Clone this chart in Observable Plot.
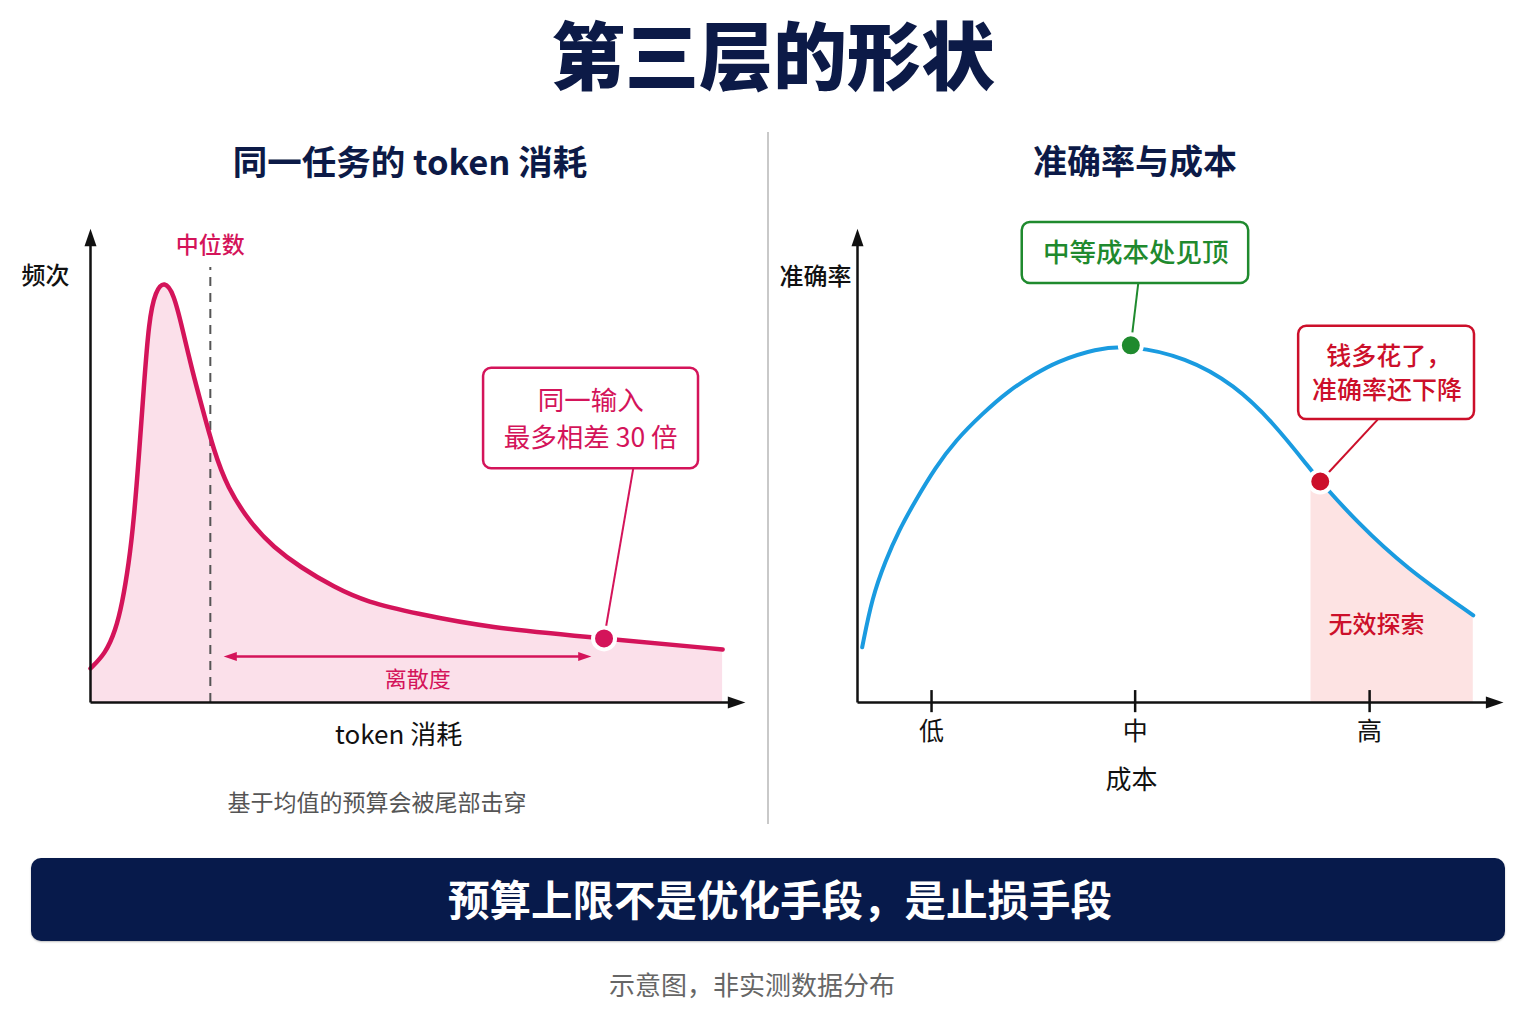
<!DOCTYPE html>
<html><head><meta charset="utf-8">
<script src="https://cdn.jsdelivr.net/npm/d3@7"></script>
<script src="https://cdn.jsdelivr.net/npm/@observablehq/plot@0.6"></script>
<style>
body{margin:0;background:#fff;}
#root{position:relative;width:1536px;height:1024px;background:#fff;font-family:'Noto Sans CJK SC','Noto Sans',sans-serif;overflow:hidden}
.abs{position:absolute;white-space:nowrap;text-align:center}
</style></head><body><div id="root"></div>
<script>
// ---------- data ----------
const pageTitle = "第三层的形状";
const leftTitle = "同一任务的 token 消耗";
const rightTitle = "准确率与成本";
const leftCaption = "基于均值的预算会被尾部击穿";
const bannerText = "预算上限不是优化手段，是止损手段";
const footerText = "示意图，非实测数据分布";

// Left: token consumption distribution (relative units)
const tokenX =    [0, 2.37, 3.94, 5.0, 6.04, 6.83, 7.62, 8.41, 9.2, 10.25, 11.67, 13.14, 14.46, 16.04, 17.62, 19.45, 21.56, 25.24, 28.9, 33.1, 38.4, 43.6, 51.5, 62.3, 81.0, 99.7];
const tokenFreq = [7.7, 11.1, 16.3, 22.4, 31.4, 41.2, 55.4, 71.3, 86.4, 93.2, 95.4, 92.5, 84.8, 75.1, 66.7, 57.0, 48.7, 40.5, 35.1, 30.6, 26.1, 22.7, 20.1, 17.0, 14.5, 12.0];
const medianToken = 18.9;
const spreadFrom = 21.0, spreadTo = 79.0, spreadLevel = 10.4;
const tailIndex = 24; // highlighted tail point
const leftLabels = {yLabel: "频次", xLabel: "token 消耗", median: "中位数", spread: "离散度"};
const leftCallout = ["同一输入", "最多相差 30 倍"];

// Right: accuracy vs cost (relative units)
const costX =    [0.76, 2.38, 4.54, 6.69, 9.4, 12.64, 15.9, 20.2, 24.5, 28.85, 32.1, 38.6, 44.3, 53.2, 61.1, 67.4, 73.5, 75.0, 80.9, 88.8, 99.8];
const accuracy = [12.5, 23.8, 32.1, 38.9, 45.7, 53.2, 59.3, 65.3, 70.6, 74.4, 77.0, 80.1, 80.8, 78.1, 71.9, 63.3, 52.6, 50.0, 40.9, 30.5, 19.7];
const peakIndex = 12;
const declineIndex = 17;
const wasteStart = 73.5;
const costTicks = [12, 45, 83];
const costTickLabels = ["低", "中", "高"];
const rightLabels = {yLabel: "准确率", xLabel: "成本", waste: "无效探索"};
const peakCallout = ["中等成本处见顶"];
const declineCallout = ["钱多花了，", "准确率还下降"];

// ---------- styles ----------
const NAVY = "#0c1a47";
const CRIMSON = "#d4145a";
const PINK = "#fbe0ea";
const BLUE = "#1a9be0";
const GREEN = "#1f8a2e";
const RED = "#cc0f2a";
const SHADE = "#fde3e3";
const FONT = "'Noto Sans CJK SC','Noto Sans',sans-serif";
const CURVE = "basis";

const root = document.getElementById("root");
function label(text, cx, cy, size, weight, color, lh = 1.3) {
  const d = document.createElement("div");
  d.className = "abs";
  d.textContent = text;
  const boxW = 900;
  Object.assign(d.style, {left: (cx - boxW / 2) + "px", width: boxW + "px",
    top: (cy - size * lh / 2 - size * 0.056) + "px", height: (size * lh) + "px", lineHeight: lh,
    fontSize: size + "px", fontWeight: weight, color});
  root.appendChild(d);
  return d;
}

label(pageTitle, 773, 56, 74, 900, NAVY, 1.6);
label(leftTitle, 410, 162, 34.5, 700, NAVY);
label(rightTitle, 1135, 162, 34, 700, NAVY);
label(leftCaption, 377, 803, 23, 400, "#555");
label(footerText, 752, 985, 26, 400, "#666");

const divider = document.createElement("div");
Object.assign(divider.style, {position: "absolute", left: "767px", top: "132px", width: "2px", height: "692px", background: "#c9c9c9"});
root.appendChild(divider);

const banner = document.createElement("div");
Object.assign(banner.style, {position: "absolute", left: "31px", top: "858px", width: "1474px", height: "83px",
  background: "#071a4b", borderRadius: "10px", boxShadow: "0 1px 2px rgba(0,0,0,0.25)"});
root.appendChild(banner);
label(bannerText, 780, 901, 41.5, 700, "#fff");

// arrowhead symbol: tip at origin, pointing up
const arrowHead = {draw(ctx, size) {
  const r = Math.sqrt(size / Math.PI);
  ctx.moveTo(0, 0); ctx.lineTo(-r * 0.75, r * 2.2); ctx.lineTo(r * 0.75, r * 2.2); ctx.closePath();
}};

const tokenData = tokenX.map((x, i) => ({x, y: tokenFreq[i]}));
const costData = costX.map((x, i) => ({x, y: accuracy[i]}));
const tail = tokenData[tailIndex];
const peak = costData[peakIndex];
const decline = costData[declineIndex];

const baseStyle = {fontFamily: FONT, background: "transparent", overflow: "visible"};

const left = Plot.plot({
  width: 760, height: 560, marginLeft: 90, marginRight: 36, marginTop: 60, marginBottom: 58,
  x: {domain: [0, 100], axis: null}, y: {domain: [0, 100], axis: null},
  style: baseStyle,
  marks: [
    Plot.areaY(tokenData, {x: "x", y: "y", curve: CURVE, fill: PINK}),
    Plot.ruleX([medianToken], {y1: 0, y2: 98.4, stroke: "#555", strokeWidth: 2, strokeDasharray: "9,7"}),
    Plot.lineY(tokenData, {x: "x", y: "y", curve: CURVE, stroke: CRIMSON, strokeWidth: 4.5}),
    // axes
    Plot.link([0], {x1: 0, y1: 0, x2: 0, y2: 105, stroke: "#111", strokeWidth: 2.5}),
    Plot.link([0], {x1: 0, y1: 0, x2: 101, y2: 0, stroke: "#111", strokeWidth: 2.5}),
    Plot.dot([0], {x: 0, y: 107.2, symbol: arrowHead, r: 8, fill: "#111", stroke: "none"}),
    Plot.dot([0], {x: 103.3, y: 0, symbol: arrowHead, r: 8, rotate: 90, fill: "#111", stroke: "none"}),
    // spread arrow
    Plot.link([0], {x1: spreadFrom + 1, y1: spreadLevel, x2: spreadTo - 1, y2: spreadLevel, stroke: CRIMSON, strokeWidth: 2.5}),
    Plot.dot([0], {x: spreadFrom, y: spreadLevel, symbol: arrowHead, r: 6, rotate: -90, fill: CRIMSON, stroke: "none"}),
    Plot.dot([0], {x: spreadTo, y: spreadLevel, symbol: arrowHead, r: 6, rotate: 90, fill: CRIMSON, stroke: "none"}),
    Plot.text([leftLabels.spread], {x: 51.6, y: 5.2, fill: CRIMSON, fontSize: 22}),
    // callout
    Plot.link([tail], {x1: "x", y1: "y", x2: 85.6, y2: 52.9, stroke: CRIMSON, strokeWidth: 2}),
    Plot.rect([0], {x1: 62.0, x2: 95.9, y1: 52.9, y2: 75.6, rx: 8, fill: "#fff", stroke: CRIMSON, strokeWidth: 2.5}),
    Plot.text(leftCallout, {x: 78.9, y: (d, i) => i === 0 ? 68.1 : 59.7, fill: CRIMSON, fontSize: 26.5}),
    Plot.dot([tail], {x: "x", y: "y", r: 11, fill: CRIMSON, stroke: "#fff", strokeWidth: 4}),
    // labels
    Plot.text([leftLabels.median], {x: medianToken, y: 103.4, fill: CRIMSON, fontSize: 23, fontWeight: 500}),
    Plot.text([leftLabels.yLabel], {x: -7.1, y: 96.4, fill: "#111", fontSize: 24, fontWeight: 500}),
    Plot.text([leftLabels.xLabel], {x: 48.6, y: -7.5, fill: "#111", fontSize: 26})
  ]
});

const right = Plot.plot({
  width: 766, height: 560, marginLeft: 87, marginRight: 62, marginTop: 60, marginBottom: 58,
  x: {domain: [0, 100], axis: null}, y: {domain: [0, 100], axis: null},
  style: baseStyle,
  marks: [
    Plot.areaY(costData.filter(d => d.x >= wasteStart), {x: "x", y: "y", curve: CURVE, fill: SHADE}),
    Plot.lineY(costData, {x: "x", y: "y", curve: CURVE, stroke: BLUE, strokeWidth: 4}),
    Plot.text([rightLabels.waste], {x: 84.1, y: 17.4, fill: RED, fontSize: 24, fontWeight: 500}),
    // axes
    Plot.link([0], {x1: 0, y1: 0, x2: 0, y2: 105, stroke: "#111", strokeWidth: 2.5}),
    Plot.link([0], {x1: 0, y1: 0, x2: 102.5, y2: 0, stroke: "#111", strokeWidth: 2.5}),
    Plot.dot([0], {x: 0, y: 107.2, symbol: arrowHead, r: 8, fill: "#111", stroke: "none"}),
    Plot.dot([0], {x: 104.7, y: 0, symbol: arrowHead, r: 8, rotate: 90, fill: "#111", stroke: "none"}),
    Plot.ruleX(costTicks, {y1: -2.3, y2: 2.7, stroke: "#111", strokeWidth: 2.5}),
    Plot.text(costTicks, {x: d => d, y: -6.6, text: (d, i) => costTickLabels[i], fill: "#111", fontSize: 25}),
    Plot.text([rightLabels.xLabel], {x: 44.4, y: -17.6, fill: "#111", fontSize: 26}),
    Plot.text([rightLabels.yLabel], {x: -6.8, y: 96.2, fill: "#111", fontSize: 24, fontWeight: 500}),
    // peak callout
    Plot.link([peak], {x1: "x", y1: "y", x2: 45.5, y2: 94.8, stroke: GREEN, strokeWidth: 2}),
    Plot.rect([0], {x1: 26.7, x2: 63.4, y1: 94.8, y2: 108.6, rx: 8, fill: "#fff", stroke: GREEN, strokeWidth: 2.5}),
    Plot.text(peakCallout, {x: 45.1, y: 101.6, fill: GREEN, fontSize: 26.5, fontWeight: 500}),
    Plot.dot([peak], {x: "x", y: "y", r: 11, fill: GREEN, stroke: "#fff", strokeWidth: 4}),
    // decline callout
    Plot.link([decline], {x1: "x", y1: "y", x2: 84.3, y2: 64.0, stroke: RED, strokeWidth: 2}),
    Plot.rect([0], {x1: 71.5, x2: 100, y1: 64.0, y2: 85.1, rx: 8, fill: "#fff", stroke: RED, strokeWidth: 2.5}),
    Plot.text(declineCallout, {x: (d, i) => i === 0 ? 86.1 : 85.8, y: (d, i) => i === 0 ? 78.1 : 70.4, fill: RED, fontSize: 25, fontWeight: 500}),
    Plot.dot([decline], {x: "x", y: "y", r: 11, fill: RED, stroke: "#fff", strokeWidth: 4})
  ]
});

function mount(svg, x, y) {
  const wrap = document.createElement("div");
  Object.assign(wrap.style, {position: "absolute", left: x + "px", top: y + "px"});
  wrap.appendChild(svg);
  root.appendChild(wrap);
}
mount(left, 0, 200);
mount(right, 770, 200);
</script>
</body></html>
